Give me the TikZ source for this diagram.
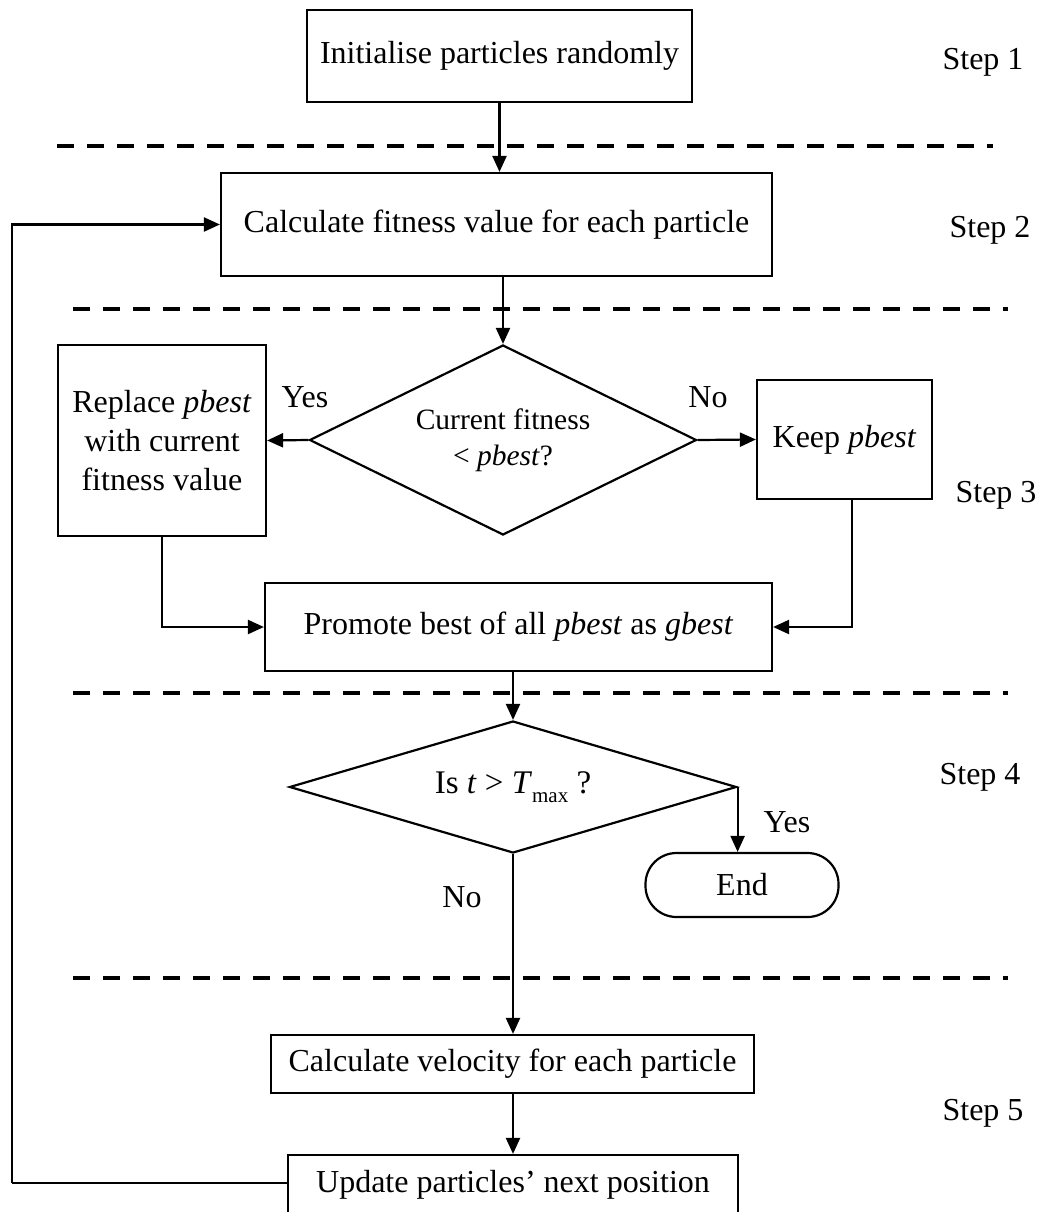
\documentclass[tikz,border=0pt]{standalone}
\usepackage{fontspec}
\setmainfont{Liberation Serif}
\usetikzlibrary{arrows.meta,shapes.geometric}

\tikzset{
  base/.style={font=\fontsize{32}{39}\selectfont, inner sep=0pt, align=center},
  procbox/.style={base, draw, line width=2.2pt},
  decision/.style={base, draw, diamond, line width=2.2pt},
  terminal/.style={base, draw, rectangle, rounded corners=31pt, line width=2.2pt,
    minimum width=193pt, minimum height=64pt},
  flow/.style={line width=2.2pt, -{Triangle[length=16pt,width=14pt]}},
  link/.style={line width=2.2pt},
  separator/.style={line width=3.8pt, dash pattern=on 17pt off 13pt},
  steplabel/.style={base},
  answer/.style={base}
}

\begin{document}
\begin{tikzpicture}[x=1pt, y=-1pt]
  \useasboundingbox[fill=white] (0,0) rectangle (1039,1212);

  % stage separators
  \draw[separator] (57,146) -- (993,146);
  \draw[separator] (73,309) -- (1008,309);
  \draw[separator] (73,693) -- (1008,693);
  \draw[separator] (73,978) -- (1008,978);

  % process steps
  \node[procbox, minimum width=385pt, minimum height=92pt] (init) at (499.5,56) {Initialise particles randomly};
  \node[procbox, minimum width=551pt, minimum height=103pt] (fit) at (496.5,224.5) {Calculate fitness value for each particle};
  \node[decision, aspect=2.04, minimum width=387pt, minimum height=190pt, font=\fontsize{29.5}{38}\selectfont] (cmp) at (503,440)
    {Current fitness\\[-2pt] < \textit{pbest}?};
  \node[procbox, minimum width=208pt, minimum height=191pt] (repl) at (162,440.5)
    {Replace \textit{pbest}\\ with current\\ fitness value};
  \node[procbox, minimum width=175pt, minimum height=119pt] (keep) at (844.5,439.5) {Keep \textit{pbest}};
  \node[procbox, minimum width=507pt, minimum height=88pt] (prom) at (518.5,627)
    {Promote best of all \textit{pbest} as \textit{gbest}};
  \node[decision, aspect=3.39, minimum width=447pt, minimum height=132pt, font=\fontsize{33}{39}\selectfont] (stop) at (513,787)
    {Is \textit{t} > \textit{T}\raisebox{-9pt}{\fontsize{21}{21}\selectfont max} ?};
  \node[terminal] (fin) at (742,885) {End};
  \node[procbox, minimum width=483pt, minimum height=58pt] (vel) at (512.5,1064)
    {Calculate velocity for each particle};
  \node[procbox, minimum width=450pt, minimum height=60pt] (upd) at (513,1185)
    {Update particles’ next position};

  % branch labels
  \node[answer] (yes1) at (305,397) {Yes};
  \node[answer] (no1) at (708,397) {No};
  \node[answer] (yes2) at (787,822) {Yes};
  \node[answer] (no2) at (462,897) {No};

  % step labels
  \node[steplabel] (s1) at (983,62) {Step 1};
  \node[steplabel] (s2) at (990,230) {Step 2};
  \node[steplabel] (s3) at (996,495) {Step 3};
  \node[steplabel] (s4) at (980,777) {Step 4};
  \node[steplabel] (s5) at (983,1113) {Step 5};

  % connectors
  \draw[flow] (init.south) -- (init.south |- fit.north);
  \draw[flow] (cmp.north |- fit.south) -- (cmp.north);
  \draw[flow] (cmp.west) -- (repl.east);
  \draw[flow] (cmp.east) -- (keep.west);
  \draw[flow] (repl.south) |- (prom.west);
  \draw[flow] ([xshift=7.5pt]keep.south) |- (prom.east);
  \draw[flow] (stop.north |- prom.south) -- (stop.north);
  \draw[flow] (stop.east) -- (stop.east |- fin.north);
  \draw[flow] (stop.south) -- (stop.south |- vel.north);
  \draw[flow] (vel.south -| upd.north) -- (upd.north);

  % feedback loop to the fitness evaluation
  \coordinate (loopc) at (12,1183);
  \draw[link] (upd.west |- loopc) -- (loopc);
  \draw[flow] (loopc) |- (fit.west);
\end{tikzpicture}
\end{document}
